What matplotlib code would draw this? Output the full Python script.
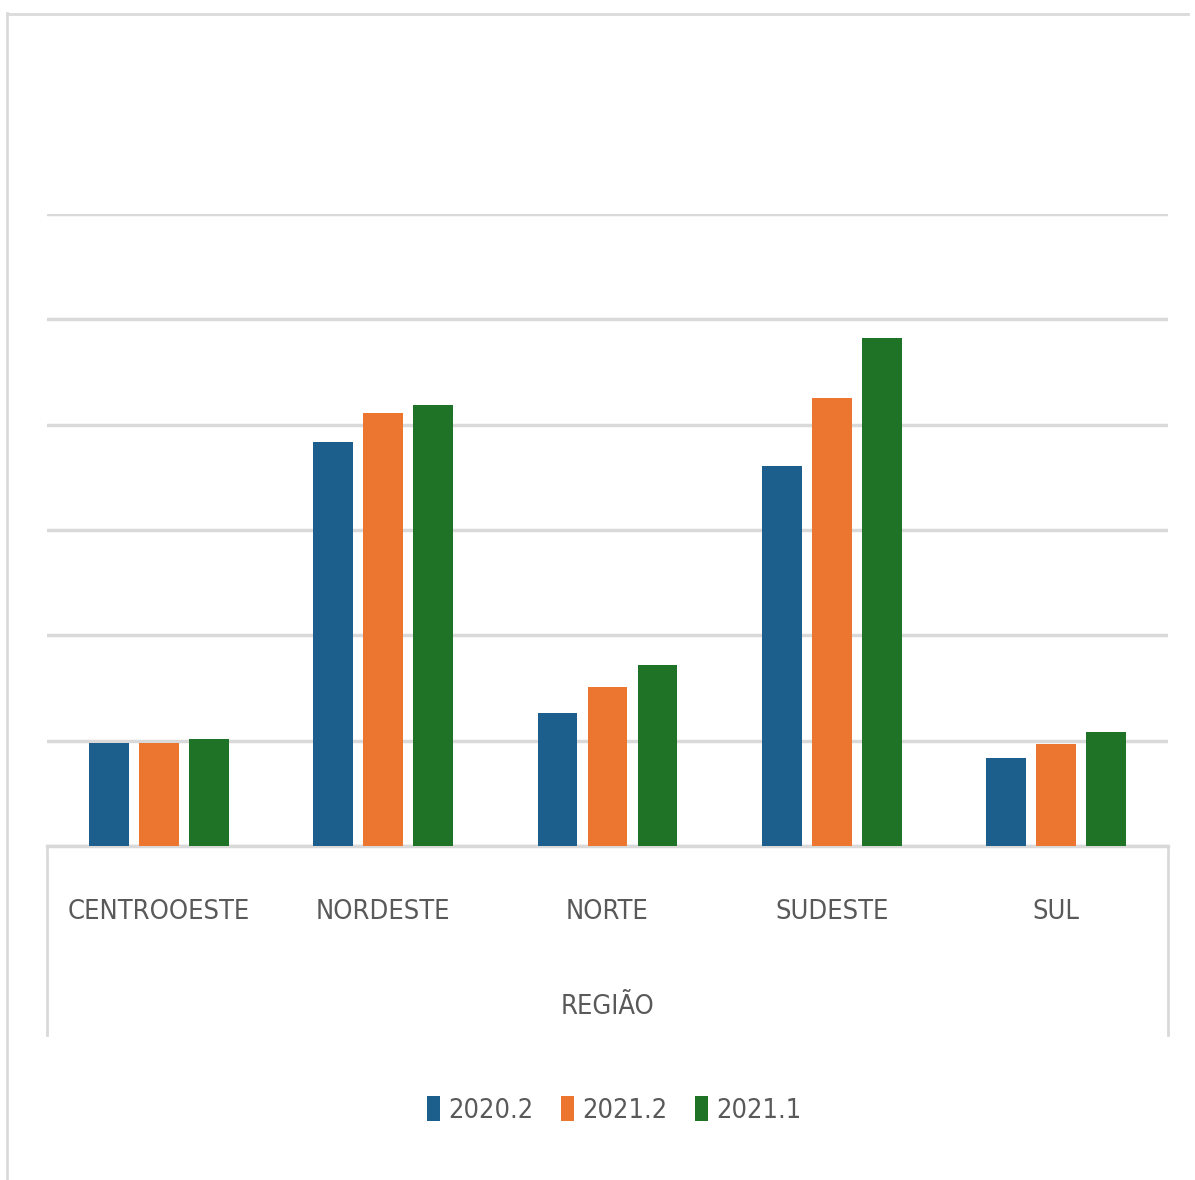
import numpy as np
import matplotlib.pyplot as plt
from matplotlib.lines import Line2D
from matplotlib.patches import Patch

plt.rcParams['font.family'] = ['DejaVu Sans']
plt.rcParams['font.stretch'] = 'condensed'

# === Data (gridline step = 10) ===
regioes = ['CENTROOESTE', 'NORDESTE', 'NORTE', 'SUDESTE', 'SUL']
series = ['2020.2', '2021.2', '2021.1']
v_2020_2 = [9.8, 38.4, 12.6, 36.1, 8.4]
v_2021_2 = [9.8, 41.1, 15.1, 42.5, 9.7]
v_2021_1 = [10.2, 41.9, 17.2, 48.2, 10.8]
cores = ['#1c5f8c', '#ec7530', '#1f7327']

W, H = 1195, 1180
fig = plt.figure(figsize=(W / 100, H / 100), dpi=100)
fig.patch.set_facecolor('white')

# axes placed in pixel terms
x0, x1, ytop, ybase = 47, 1168, 214, 846
ax = fig.add_axes([x0 / W, 1 - ybase / H, (x1 - x0) / W, (ybase - ytop) / H])

x = np.arange(len(regioes))
step, bw = 0.223, 0.178
for i, (vals, cor, nome) in enumerate(zip([v_2020_2, v_2021_2, v_2021_1], cores, series)):
    ax.bar(x + (i - 1) * step, vals, width=bw, color=cor, label=nome, zorder=3)

ax.set_xlim(-0.5, len(regioes) - 0.5)
ax.set_ylim(0, 60)
ax.set_yticks(np.arange(0, 61, 10))
ax.yaxis.grid(True, color='#d9d9d9', linewidth=2.5)
ax.set_axisbelow(True)
ax.tick_params(axis='y', length=0, labelleft=False)
for s in ['top', 'left', 'right']:
    ax.spines[s].set_visible(False)
ax.spines['bottom'].set_color('#d9d9d9')
ax.spines['bottom'].set_linewidth(2.5)

fs = 19.5
ax.set_xticks(x)
ax.set_xticklabels(regioes, fontsize=fs, color='#595959')
ax.tick_params(axis='x', length=0, pad=38)
ax.set_xlabel('REGIÃO', fontsize=fs, color='#595959', labelpad=50)

# vertical separators of the category area
for px in (x0, x1):
    fig.add_artist(Line2D([px / W, px / W], [1 - ybase / H, 1 - 1035 / H],
                          color='#d9d9d9', linewidth=2))

# light outer frame (left and top)
fig.add_artist(Line2D([7 / W, 7 / W], [0, 1 - 13 / H], color='#dadada', linewidth=2))
fig.add_artist(Line2D([7 / W, 1188 / W], [1 - 14 / H, 1 - 14 / H], color='#dadada', linewidth=2))

handles = [Patch(facecolor=c, label=s) for c, s in zip(cores, series)]
fig.legend(handles=handles, loc='center', bbox_to_anchor=(614 / W, 1 - 1110 / H),
           ncol=3, frameon=False, fontsize=fs, labelcolor='#595959',
           handlelength=0.5, handleheight=1.0, handletextpad=0.3, columnspacing=1.0)

fig.savefig('out.png', dpi=100)
